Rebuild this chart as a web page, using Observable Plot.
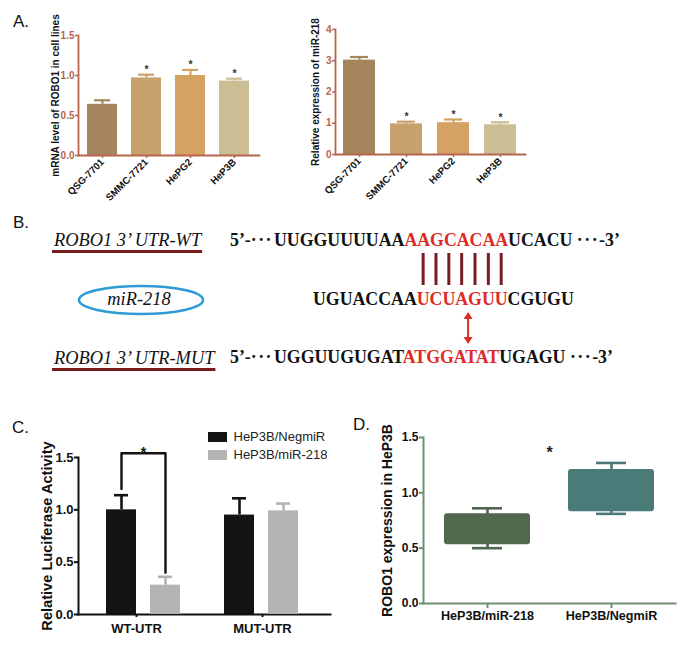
<!DOCTYPE html>
<html>
<head>
<meta charset="utf-8">
<script src="https://cdn.jsdelivr.net/npm/d3@7"></script>
<script src="https://cdn.jsdelivr.net/npm/@observablehq/plot@0.6"></script>
<style>
  html, body { margin: 0; padding: 0; background: #fff; }
  #fig { position: relative; width: 689px; height: 655px; overflow: hidden; background: #fff;
         font-family: "Liberation Sans", Arial, Helvetica, sans-serif; }
  #legC, #legC * { font-family: "Liberation Sans", Arial, Helvetica, sans-serif !important; font-size: 13px !important; color: #222 !important; }
  #legC > * { margin: 0 !important; }
  #legC .legc-swatch { padding-bottom: 3px !important; }
</style>
</head>
<body>
<div id="fig"></div>
<script>
// ---------------- Panel A data ----------------
const cellLines = ["QSG-7701", "SMMC-7721", "HePG2", "HeP3B"];
const roboMean = [0.64, 0.97, 1.00, 0.93];
const roboErrTop = [0.69, 1.01, 1.07, 0.96];
const mirMean = [3.02, 0.98, 1.02, 0.95];
const mirErrTop = [3.12, 1.05, 1.12, 1.03];
const sigA = ["", "*", "*", "*"];
const barColorsA = ["#a4855c", "#c7a26f", "#d5a263", "#cbbe94"];
const ticksRobo = [0, 0.5, 1.0, 1.5];
const ticksMir = [0, 1, 2, 3, 4];
const titleRobo = "mRNA level of ROBO1 in cell lines";
const titleMir = "Relative expression of miR-218";

// ---------------- Panel B data ----------------
const wtLabel = "ROBO1 3\u2019 UTR-WT";
const mutLabel = "ROBO1 3\u2019 UTR-MUT";
const mirLabel = "miR-218";
const wtSeq = ["UUGGUUUUAA", "AAGCACAA", "UCACU"];
const mirSeq = ["UGUACCAA", "UCUAGUU", "CGUGU"];
const mutSeq = ["UGGUUGUGAT", "ATGGATAT", "UGAGU"];
const prime5 = "5\u2019-", prime3 = "-3\u2019", dots = "\u00b7\u00b7\u00b7";

// ---------------- Panel C data ----------------
const groupsC = ["WT-UTR", "MUT-UTR"];
const seriesC = ["HeP3B/NegmiR", "HeP3B/miR-218"];
const colorsC = ["#141414", "#b3b3b3"];
const lucNeg = [1.00, 0.95];
const lucNegErrTop = [1.14, 1.11];
const lucMir = [0.28, 0.99];
const lucMirErrTop = [0.36, 1.06];
const bracketC = [1.20, 1.54, 0.40];
const ticksC = [0, 0.5, 1.0, 1.5];
const titleC = "Relative Luciferase Activity";

// ---------------- Panel D data ----------------
const groupsD = ["HeP3B/miR-218", "HeP3B/NegmiR"];
const dMin = [0.50, 0.81];
const dQ1 = [0.53, 0.83];
const dQ3 = [0.81, 1.21];
const dMax = [0.86, 1.27];
const colorsD = ["#51684f", "#4b7b78"];
const sigDLevel = 1.36;
const ticksD = [0, 0.5, 1.0, 1.5];
const titleD = "ROBO1 expression in HeP3B";

// ---------------- helpers ----------------
const FONT = '"Liberation Sans", Arial, Helvetica, sans-serif';
const SERIF = '"Liberation Serif", "Times New Roman", Times, serif';
const AX_A = "#b8654d";
const AX_D = "#6e8f70";
const RED = "#dc2b25";
const fig = document.getElementById("fig");
function place(el, left, top) {
  el.style.position = "absolute";
  el.style.left = left + "px";
  el.style.top = top + "px";
  fig.appendChild(el);
  return el;
}
const fmt1 = d => d.toFixed(1);
function yTitle(title, dx, fontSize) {
  return Plot.text([title], {text: d => d, frameAnchor: "left", textAnchor: "middle", lineAnchor: "middle",
                             rotate: -90, dx, fontSize, fontWeight: "bold", fill: "#111"});
}

// ---------------- Panel A ----------------
function panelA({means, errs, yMax, ticks, fmt, title, width, ml, mr, mt, mb, titleDx}) {
  const data = cellLines.map((c, i) => ({c, v: means[i], e: errs[i], s: sigA[i]}));
  return Plot.plot({
    width, height: 208,
    marginLeft: ml, marginRight: mr, marginTop: mt, marginBottom: mb,
    style: {fontFamily: FONT, background: "transparent", overflow: "visible"},
    x: {domain: cellLines, paddingInner: 0.31, paddingOuter: 0.17, axis: null},
    y: {domain: [0, yMax], axis: null},
    color: {domain: cellLines, range: barColorsA},
    marks: [
      Plot.ruleX(data, {x: "c", y1: "v", y2: "e", stroke: "c", strokeWidth: 2.2}),
      Plot.tickY(data, {x: "c", y: "e", stroke: "c", strokeWidth: 2.2, insetLeft: 7, insetRight: 7}),
      Plot.barY(data, {x: "c", y: "v", fill: "c"}),
      Plot.text(data, {x: "c", y: "e", text: "s", dy: -5, fontSize: 10.5, fontWeight: "bold", fill: "#333"}),
      Plot.frame({anchor: "left", stroke: AX_A, strokeWidth: 1.8}),
      Plot.frame({anchor: "bottom", stroke: AX_A, strokeWidth: 1.8}),
      Plot.axisY({ticks, tickFormat: fmt, stroke: AX_A, fill: AX_A, tickSize: 3, tickPadding: 1,
                  fontSize: 10, fontWeight: "bold", strokeWidth: 1.5, label: null}),
      Plot.axisX({tickRotate: -45, stroke: AX_A, fill: "#111", tickSize: 3, tickPadding: 2,
                  fontSize: 9.8, fontWeight: "bold", strokeWidth: 1.5, label: null}),
      yTitle(title, titleDx, 10)
    ]
  });
}
place(panelA({means: roboMean, errs: roboErrTop, yMax: 1.5, ticks: ticksRobo, fmt: fmt1, title: titleRobo,
              width: 270, ml: 78, mr: 11, mt: 35, mb: 53, titleDx: -23}), 0, 0);
place(panelA({means: mirMean, errs: mirErrTop, yMax: 4, ticks: ticksMir, fmt: d => String(d), title: titleMir,
              width: 280, ml: 80, mr: 10, mt: 29, mb: 54, titleDx: -20}), 255, 0);

// ---------------- Panel C ----------------
const fxOpts = {domain: groupsC, paddingInner: 0.36, paddingOuter: 0.239, align: 0.46};
const dataC = [];
groupsC.forEach((g, i) => {
  dataC.push({g, s: seriesC[0], v: lucNeg[i], e: lucNegErrTop[i]});
  dataC.push({g, s: seriesC[1], v: lucMir[i], e: lucMirErrTop[i]});
});
const bracketPts = [
  {g: groupsC[0], s: seriesC[0], y: bracketC[0]},
  {g: groupsC[0], s: seriesC[0], y: bracketC[1]},
  {g: groupsC[0], s: seriesC[1], y: bracketC[1]},
  {g: groupsC[0], s: seriesC[1], y: bracketC[2]}
];
const dimsC = {width: 345, height: 245, marginLeft: 78, marginRight: 15, marginTop: 57, marginBottom: 31};

// axes layer
place(Plot.plot({
  ...dimsC,
  style: {fontFamily: FONT, background: "transparent", overflow: "visible"},
  x: {...fxOpts, axis: null},
  y: {domain: [0, 1.5], axis: null},
  marks: [
    Plot.frame({anchor: "left", stroke: "#111", strokeWidth: 2}),
    Plot.frame({anchor: "bottom", stroke: "#111", strokeWidth: 2}),
    Plot.axisY({ticks: ticksC, tickFormat: fmt1, stroke: "#111", fill: "#111", tickSize: 4, tickPadding: 1,
                fontSize: 13, fontWeight: "bold", strokeWidth: 2, label: null}),
    Plot.axisX({stroke: "#111", fill: "#111", tickSize: 3, tickPadding: 6, fontSize: 13, fontWeight: "bold",
                strokeWidth: 2, label: null}),
    yTitle(titleC, -31, 14.6)
  ]
}), 0, 400);

// bars layer (faceted)
place(Plot.plot({
  ...dimsC,
  style: {fontFamily: FONT, background: "transparent", overflow: "visible"},
  fx: {...fxOpts, axis: null, label: null},
  x: {domain: seriesC, paddingInner: 0.31, paddingOuter: 0, axis: null},
  y: {domain: [0, 1.5], axis: null},
  color: {domain: seriesC, range: colorsC},
  marks: [
    Plot.ruleX(dataC, {fx: "g", x: "s", y1: "v", y2: "e", stroke: "s", strokeWidth: 2.6}),
    Plot.tickY(dataC, {fx: "g", x: "s", y: "e", stroke: "s", strokeWidth: 2.6, insetLeft: 8, insetRight: 8}),
    Plot.barY(dataC, {fx: "g", x: "s", y: "v", fill: "s"}),
    Plot.line(bracketPts, {fx: "g", x: "s", y: "y", stroke: "#111", strokeWidth: 2.4, curve: "linear"}),
    Plot.text([{g: groupsC[0], y: bracketC[1], t: "*"}], {fx: "g", y: "y", text: "t", dy: -1,
               fontSize: 14, fontWeight: "bold", fill: "#111"})
  ]
}), 0, 400);

// legend
const legC = Plot.legend({
  color: {domain: seriesC, range: colorsC},
  legend: "swatches", columns: 1, swatchWidth: 19, swatchHeight: 10, className: "legc"
});
const legWrap = document.createElement("div");
legWrap.id = "legC";
legWrap.appendChild(legC);
place(legWrap, 208, 429);

// ---------------- Panel D ----------------
const dataD = groupsD.map((g, i) => ({g, lo: dMin[i], q1: dQ1[i], q3: dQ3[i], hi: dMax[i]}));
place(Plot.plot({
  width: 339, height: 250, marginLeft: 73, marginRight: 14, marginTop: 37, marginBottom: 47,
  style: {fontFamily: FONT, background: "transparent", overflow: "visible"},
  x: {domain: groupsD, paddingInner: 0.306, paddingOuter: 0.169, axis: null},
  y: {domain: [0, 1.5], axis: null},
  color: {domain: groupsD, range: colorsD},
  marks: [
    Plot.ruleX(dataD, {x: "g", y1: "lo", y2: "hi", stroke: "g", strokeWidth: 2.6}),
    Plot.tickY(dataD, {x: "g", y: "lo", stroke: "g", strokeWidth: 2.6, insetLeft: 28, insetRight: 28}),
    Plot.tickY(dataD, {x: "g", y: "hi", stroke: "g", strokeWidth: 2.6, insetLeft: 28, insetRight: 28}),
    Plot.barY(dataD, {x: "g", y1: "q1", y2: "q3", fill: "g", rx: 3}),
    Plot.frame({anchor: "left", stroke: AX_D, strokeWidth: 2}),
    Plot.frame({anchor: "bottom", stroke: AX_D, strokeWidth: 2}),
    Plot.axisY({ticks: ticksD, tickFormat: fmt1, stroke: AX_D, fill: "#111", tickSize: 4, tickPadding: 1,
                fontSize: 12, fontWeight: "bold", strokeWidth: 2, label: null}),
    Plot.axisX({stroke: AX_D, fill: "#111", tickSize: 5, tickPadding: 3, fontSize: 12.6, fontWeight: "bold",
                strokeWidth: 2, label: null}),
    Plot.text([{y: sigDLevel, t: "*"}], {y: "y", text: "t", fontSize: 16, fontWeight: "bold", fill: "#222"}),
    yTitle(titleD, -36, 14)
  ]
}), 350, 400);

// ---------------- Overlay: panel letters and panel B diagram ----------------
const ov = d3.create("svg").attr("width", 689).attr("height", 655)
  .style("position", "absolute").style("left", "0px").style("top", "0px").style("pointer-events", "none");
fig.appendChild(ov.node());

const letters = [["A.", 13, 27], ["B.", 13, 228], ["C.", 12, 433], ["D.", 353, 430]];
letters.forEach(([t, x, y]) => ov.append("text").attr("x", x).attr("y", y)
  .attr("font-family", FONT).attr("font-size", 17).attr("fill", "#111").text(t));

// gene labels with underline
function geneLabel(label, y) {
  const t = ov.append("text").attr("x", 54).attr("y", y).attr("font-family", SERIF)
    .attr("font-style", "italic").attr("font-size", 18.4).attr("fill", "#111").text(label);
  const len = t.node().getComputedTextLength();
  ov.append("line").attr("x1", 52).attr("x2", 54 + len + 1).attr("y1", y + 5.5).attr("y2", y + 5.5)
    .attr("stroke", "#7a1b1b").attr("stroke-width", 3);
}
geneLabel(wtLabel, 246);
geneLabel(mutLabel, 364);

// miR ellipse
ov.append("ellipse").attr("cx", 141).attr("cy", 300).attr("rx", 62).attr("ry", 14)
  .attr("fill", "none").attr("stroke", "#2f9bd5").attr("stroke-width", 2.6);
ov.append("text").attr("x", 139).attr("y", 305).attr("text-anchor", "middle").attr("font-family", SERIF)
  .attr("font-style", "italic").attr("font-size", 18.4).attr("fill", "#111").text(mirLabel);

function seqRow(y, parts, xSeq, primes) {
  const t = ov.append("text").attr("y", y).attr("font-family", SERIF).attr("font-weight", "bold")
    .attr("font-size", 17.8).attr("fill", "#111");
  if (primes) {
    t.append("tspan").attr("x", 230).text(prime5);
    t.append("tspan").attr("letter-spacing", 1.5).text(dots);
  }
  t.append("tspan").attr("x", xSeq).text(parts[0]);
  t.append("tspan").attr("fill", RED).text(parts[1]);
  t.append("tspan").text(parts[2]);
  if (primes) {
    t.append("tspan").text(" ");
    t.append("tspan").attr("letter-spacing", 1.5).text(dots);
    t.append("tspan").text(prime3);
  }
  return t;
}
seqRow(246, wtSeq, 274, true);
const mirText = seqRow(305, mirSeq, 313, false);
seqRow(363, mutSeq, 274, true);

// pairing bars at the miR seed nucleotides
const mirNode = mirText.node();
const start = mirSeq[0].length;
for (let i = start; i < start + mirSeq[1].length; i++) {
  const e = mirNode.getExtentOfChar(i);
  const cx = e.x + e.width / 2;
  ov.append("line").attr("x1", cx).attr("x2", cx).attr("y1", 253).attr("y2", 285)
    .attr("stroke", "#7b1c24").attr("stroke-width", 3);
}
// double arrow between miR and mutant site
const eA = mirNode.getExtentOfChar(start + 3);
const ax = eA.x + eA.width;
ov.append("line").attr("x1", ax).attr("x2", ax).attr("y1", 317).attr("y2", 339)
  .attr("stroke", RED).attr("stroke-width", 2);
ov.append("path").attr("d", `M${ax - 4.5},${319} L${ax},${312} L${ax + 4.5},${319} Z`).attr("fill", RED);
ov.append("path").attr("d", `M${ax - 4.5},${337} L${ax},${344} L${ax + 4.5},${337} Z`).attr("fill", RED);
</script>
</body>
</html>
